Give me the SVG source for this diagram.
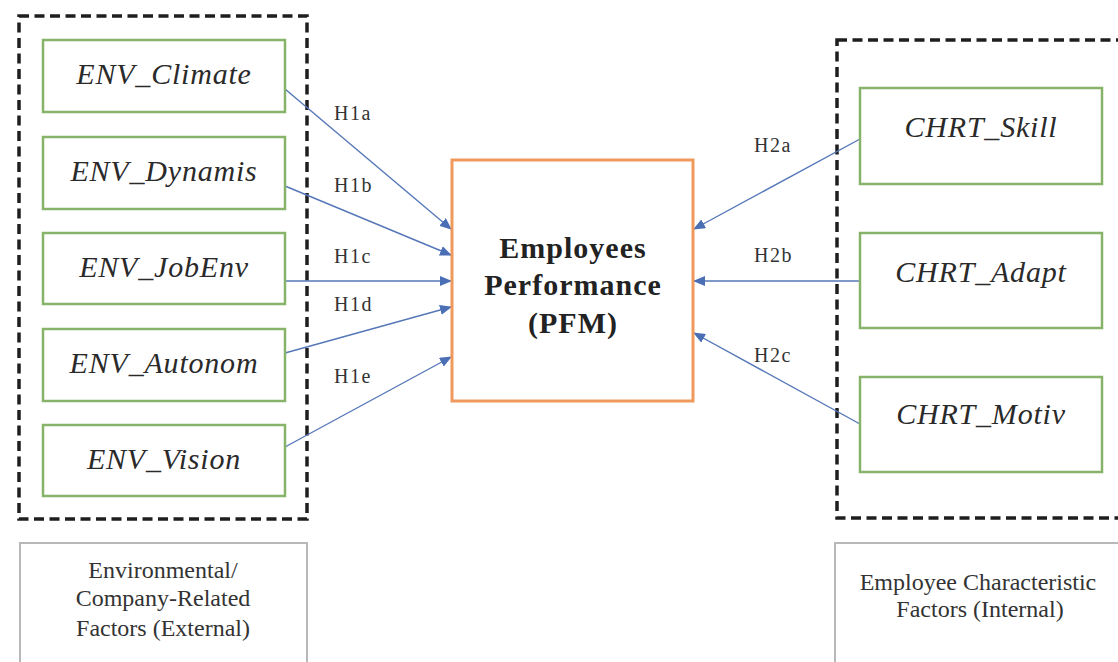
<svg xmlns="http://www.w3.org/2000/svg" width="1118" height="662" viewBox="0 0 1118 662">
  <defs>
    <marker id="arrow" viewBox="0 0 12 10" refX="11" refY="5" markerWidth="12" markerHeight="10" markerUnits="userSpaceOnUse" orient="auto">
      <path d="M0,0 L12,5 L0,10 z" fill="#4a6fb5"/>
    </marker>
    <style>
      .group { fill: none; stroke: #1e1e1e; stroke-width: 3.5; stroke-dasharray: 10 5.5; }
      .factor { fill: #ffffff; stroke: #86b26a; stroke-width: 2.5; }
      .factor-label { font-family: "Liberation Serif", "Times New Roman", serif; font-style: italic; font-size: 30px; fill: #2a2a2a; text-anchor: middle; letter-spacing: 0.8px; }
      .center { fill: #ffffff; stroke: #ef9a5c; stroke-width: 3; }
      .center-label { font-family: "Liberation Serif", "Times New Roman", serif; font-weight: bold; font-size: 30px; fill: #222; text-anchor: middle; letter-spacing: 1px; }
      .caption { fill: #ffffff; stroke: #b8b8b8; stroke-width: 2; }
      .caption-label { font-family: "Liberation Serif", "Times New Roman", serif; font-size: 24px; fill: #333; text-anchor: middle; }
      .edge { stroke: #5577b8; stroke-width: 1.4; fill: none; marker-end: url(#arrow); }
      .hyp { font-family: "Liberation Serif", "Times New Roman", serif; font-size: 20px; fill: #333; letter-spacing: 1.5px; }
    </style>
  </defs>
  <rect width="1118" height="662" fill="#ffffff"/>

  <!-- group frames -->
  <rect id="frame-env" class="group" x="19" y="16" width="288" height="503"/>
  <rect id="frame-chrt" class="group" x="837" y="40" width="300" height="478"/>

  <!-- connectors -->
  <g id="connectors">
    <line class="edge" x1="285" y1="89" x2="451" y2="229"/>
    <line class="edge" x1="285" y1="186" x2="451" y2="255"/>
    <line class="edge" x1="285" y1="281" x2="451" y2="281"/>
    <line class="edge" x1="285" y1="353" x2="451" y2="307"/>
    <line class="edge" x1="285" y1="447" x2="451" y2="357"/>
    <line class="edge" x1="860" y1="139" x2="694" y2="229"/>
    <line class="edge" x1="860" y1="281" x2="694" y2="281"/>
    <line class="edge" x1="860" y1="424" x2="694" y2="333"/>
    <text class="hyp" x="334" y="120">H1a</text>
    <text class="hyp" x="334" y="192">H1b</text>
    <text class="hyp" x="334" y="263">H1c</text>
    <text class="hyp" x="334" y="311">H1d</text>
    <text class="hyp" x="334" y="383">H1e</text>
    <text class="hyp" x="754" y="152">H2a</text>
    <text class="hyp" x="754" y="262">H2b</text>
    <text class="hyp" x="754" y="362">H2c</text>
  </g>

  <!-- environmental factors -->
  <g id="env-climate">
    <rect class="factor" x="43" y="40" width="242" height="72"/>
    <text class="factor-label" x="164" y="84">ENV_Climate</text>
  </g>
  <g id="env-dynamis">
    <rect class="factor" x="43" y="137" width="242" height="72"/>
    <text class="factor-label" x="164" y="181">ENV_Dynamis</text>
  </g>
  <g id="env-jobenv">
    <rect class="factor" x="43" y="233" width="242" height="71"/>
    <text class="factor-label" x="164" y="277">ENV_JobEnv</text>
  </g>
  <g id="env-autonom">
    <rect class="factor" x="43" y="329" width="242" height="72"/>
    <text class="factor-label" x="164" y="373">ENV_Autonom</text>
  </g>
  <g id="env-vision">
    <rect class="factor" x="43" y="425" width="242" height="71"/>
    <text class="factor-label" x="164" y="469">ENV_Vision</text>
  </g>

  <!-- outcome -->
  <g id="pfm">
    <rect class="center" x="452" y="160" width="241" height="241"/>
    <text class="center-label" x="573" y="258">Employees</text>
    <text class="center-label" x="573" y="295">Performance</text>
    <text class="center-label" x="573" y="333">(PFM)</text>
  </g>

  <!-- employee characteristics -->
  <g id="chrt-skill">
    <rect class="factor" x="860" y="88" width="242" height="96"/>
    <text class="factor-label" x="981" y="137">CHRT_Skill</text>
  </g>
  <g id="chrt-adapt">
    <rect class="factor" x="860" y="233" width="242" height="95"/>
    <text class="factor-label" x="981" y="282">CHRT_Adapt</text>
  </g>
  <g id="chrt-motiv">
    <rect class="factor" x="860" y="377" width="242" height="95"/>
    <text class="factor-label" x="981" y="424">CHRT_Motiv</text>
  </g>

  <!-- captions -->
  <g id="caption-env">
    <rect class="caption" x="20" y="543" width="287" height="140"/>
    <text class="caption-label" x="163" y="578">Environmental/</text>
    <text class="caption-label" x="163" y="606">Company-Related</text>
    <text class="caption-label" x="163" y="636">Factors (External)</text>
  </g>
  <g id="caption-chrt">
    <rect class="caption" x="835" y="543" width="300" height="140"/>
    <text class="caption-label" x="978" y="590">Employee Characteristic</text>
    <text class="caption-label" x="980" y="617">Factors (Internal)</text>
  </g>
</svg>
